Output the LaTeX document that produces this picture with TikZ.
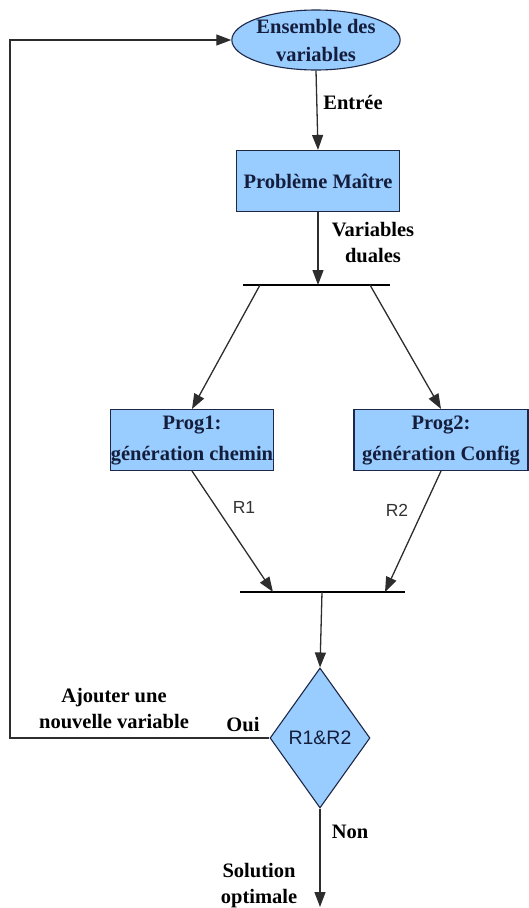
\documentclass[tikz,border=0pt]{standalone}
\usepackage{fontspec}
\setmainfont{Liberation Serif}
\setsansfont{Liberation Sans}
\usetikzlibrary{arrows.meta,shapes.geometric}

\definecolor{fondbleu}{RGB}{153,204,255}
\definecolor{bordbleu}{RGB}{30,40,70}
\definecolor{textebleu}{RGB}{20,30,60}
\definecolor{trait}{RGB}{45,45,45}

\tikzset{
  boite/.style={draw=bordbleu,fill=fondbleu,line width=1.1pt,text=textebleu,
    font=\bfseries\fontsize{20.5}{31}\selectfont,align=center,inner sep=0pt,minimum height=61pt},
  etiq/.style={font=\bfseries\fontsize{20.5}{26}\selectfont,align=center,inner sep=0pt},
  etiqsf/.style={font=\sffamily\fontsize{17.5}{20}\selectfont,inner sep=0pt,text=black!80},
  fleche/.style={draw=trait,line width=1.3pt,-{Triangle[length=15pt,width=11pt]}},
  barre/.style={draw=black,line width=1.3pt}
}

\begin{document}
\begin{tikzpicture}[x=1pt,y=-1pt]
\useasboundingbox (0,0) rectangle (529,908);
% les blocs
\node[boite,ellipse,minimum width=150pt,minimum height=60pt,font=\bfseries\fontsize{20.5}{28}\selectfont] (vars) at (316,40) {Ensemble des\\variables};
\node[boite,minimum width=163pt] (maitre) at (318,181) {Problème Maître};
\node[boite,minimum width=161pt] (prog1) at (192,440) {Prog1:\\génération chemin};
\node[boite,minimum width=174pt] (prog2) at (441,440) {Prog2:\\génération Config};
\node[boite,diamond,minimum width=100pt,minimum height=140pt,font=\sffamily\fontsize{19.5}{20}\selectfont] (test) at (320,738) {R1\&R2};
% les barres
\coordinate (b1g) at (243,285);
\coordinate (b1d) at (390,285);
\coordinate (b1m) at (318,285);
\coordinate (b1a) at (260,285);
\coordinate (b1b) at (370,285);
\coordinate (b2g) at (240,592);
\coordinate (b2d) at (405,592);
\coordinate (b2m) at (322,592);
\coordinate (b2a) at (273,592);
\coordinate (b2b) at (385,592);
\draw[barre] (b1g) -- (b1d);
\draw[barre] (b2g) -- (b2d);
% les fleches
\draw[fleche] (vars.south) -- (maitre.north);
\draw[fleche] (maitre.south) -- (b1m);
\draw[fleche] (b1a) -- (prog1.north);
\draw[fleche] (b1b) -- (prog2.north);
\draw[fleche] (prog1.south) -- (b2a);
\draw[fleche] (prog2.south) -- (b2b);
\draw[fleche] (b2m) -- (test.north);
\coordinate (coinbas) at (10,738);
\coordinate (coinhaut) at (10,40);
\draw[fleche] (test.west) -- (coinbas) -- (coinhaut) -- (vars.west);
\coordinate (fin) at (320,907);
\draw[fleche] (test.south) -- (fin);
% les etiquettes
\node[etiq] (entree) at (353,102) {Entrée};
\node[etiq] (duales) at (373,243) {Variables\\duales};
\node[etiqsf] (r1) at (244,507) {R1};
\node[etiqsf] (r2) at (397,510) {R2};
\node[etiq] (ajout) at (114,709) {Ajouter une\\nouvelle variable};
\node[etiq] (oui) at (243,725) {Oui};
\node[etiq] (non) at (350,832) {Non};
\node[etiq] (sol) at (259,886) {Solution\\optimale};
\end{tikzpicture}
\end{document}
